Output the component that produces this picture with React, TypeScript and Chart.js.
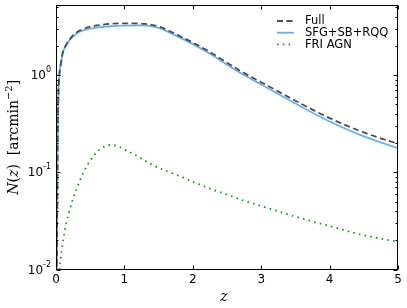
import React, { useEffect, useRef } from 'react';
import { Chart, registerables } from 'chart.js';
Chart.register(...registerables);

// ---- data ----
const zMain = [0.012, 0.02, 0.025, 0.03, 0.035, 0.04, 0.05, 0.075, 0.1, 0.15, 0.2, 0.3, 0.4, 0.5, 0.6, 0.8, 1.0, 1.2, 1.3, 1.4, 1.5, 1.6, 1.8, 2.0, 2.25, 2.5, 2.75, 3.0, 3.5, 4.0, 4.5, 5.0];
const nFull = [0.011, 0.062, 0.203, 0.424, 0.625, 0.786, 1.03, 1.36, 1.72, 2.05, 2.34, 2.75, 2.98, 3.13, 3.24, 3.37, 3.40, 3.40, 3.36, 3.29, 3.16, 2.97, 2.54, 2.16, 1.73, 1.34, 1.05, 0.845, 0.545, 0.361, 0.257, 0.196];
const nSfg = [0.01, 0.06, 0.2, 0.42, 0.62, 0.78, 1.02, 1.35, 1.7, 2.02, 2.3, 2.68, 2.88, 3.0, 3.08, 3.18, 3.23, 3.25, 3.23, 3.17, 3.05, 2.87, 2.45, 2.08, 1.66, 1.28, 1.0, 0.8, 0.51, 0.333, 0.234, 0.177];
const zAgn = [0.04, 0.05, 0.075, 0.1, 0.15, 0.2, 0.25, 0.3, 0.4, 0.5, 0.6, 0.7, 0.8, 0.9, 1.0, 1.2, 1.4, 1.6, 1.8, 2.0, 2.25, 2.5, 2.75, 3.0, 3.5, 4.0, 4.5, 5.0];
const nAgn = [0.0075, 0.0095, 0.014, 0.019, 0.03, 0.041, 0.054, 0.067, 0.099, 0.132, 0.162, 0.183, 0.191, 0.186, 0.172, 0.145, 0.12, 0.104, 0.092, 0.08, 0.068, 0.059, 0.051, 0.045, 0.035, 0.028, 0.0225, 0.0193];

const seriesNames = ['Full', 'SFG+SB+RQQ', 'FRI AGN'];
const xTicks = [0, 1, 2, 3, 4, 5];
const yTicks = [0.01, 0.1, 1];
const yTickExp = ['-2', '-1', '0'];
const xMin = 0, xMax = 5, yMin = 0.01, yMax = 5.26;

const W = 407, H = 308;
const SANS = '"DejaVu Sans", sans-serif';
const SERIF = '"DejaVu Serif", "Liberation Serif", serif';

const pts = (xs: number[], ys: number[]) => xs.map((x, i) => ({ x, y: ys[i] }));

const decor = {
  id: 'decor',
  afterDraw(chart: any) {
    const { ctx, chartArea: a } = chart;
    const xs = chart.scales.x, ys = chart.scales.y;
    ctx.save();
    ctx.strokeStyle = '#000';
    ctx.fillStyle = '#000';
    ctx.lineWidth = 1;
    const L = Math.round(a.left) + 0.5, R = Math.round(a.right) - 0.5;
    const T = Math.round(a.top) + 0.5, B = Math.round(a.bottom) - 0.5;
    ctx.strokeRect(L, T, R - L, B - T);
    ctx.beginPath();
    xTicks.forEach((v) => {
      const px = Math.round(xs.getPixelForValue(v)) + 0.5;
      ctx.moveTo(px, B); ctx.lineTo(px, B - 4);
      ctx.moveTo(px, T); ctx.lineTo(px, T + 4);
    });
    for (let e = -2; e <= 0; e++) {
      for (let m = 1; m <= 9; m++) {
        const v = m * Math.pow(10, e);
        if (v < yMin || v > yMax) continue;
        const py = Math.round(ys.getPixelForValue(v)) + 0.5;
        const len = m === 1 ? 4 : 2;
        ctx.moveTo(L, py); ctx.lineTo(L + len, py);
        ctx.moveTo(R, py); ctx.lineTo(R - len, py);
      }
    }
    ctx.stroke();
    ctx.font = `12px ${SANS}`;
    ctx.textAlign = 'center';
    ctx.textBaseline = 'top';
    xTicks.forEach((v) => {
      ctx.fillText(String(v), xs.getPixelForValue(v), a.bottom + 4);
    });
    yTicks.forEach((v, i) => {
      const py = ys.getPixelForValue(v);
      ctx.font = `8px ${SANS}`;
      const ew = ctx.measureText(yTickExp[i]).width;
      const right = a.left - 5;
      ctx.textAlign = 'right';
      ctx.textBaseline = 'middle';
      ctx.fillText(yTickExp[i], right, py - 5);
      ctx.font = `12px ${SANS}`;
      ctx.fillText('10', right - ew, py + 1);
    });
    ctx.font = `italic 14px ${SERIF}`;
    ctx.textAlign = 'center';
    ctx.textBaseline = 'middle';
    ctx.fillText('z', (a.left + a.right) / 2 - 3, 297);
    ctx.save();
    ctx.translate(14, (a.top + a.bottom) / 2);
    ctx.rotate(-Math.PI / 2);
    const parts = [
      { t: 'N', f: `italic 14px ${SERIF}`, dy: 0 },
      { t: '(', f: `14px ${SERIF}`, dy: 0 },
      { t: 'z', f: `italic 14px ${SERIF}`, dy: 0 },
      { t: ')', f: `14px ${SERIF}`, dy: 0 },
      { t: '  [arcmin', f: `14px ${SERIF}`, dy: 0 },
      { t: '−2', f: `10px ${SERIF}`, dy: -5 },
      { t: ']', f: `14px ${SERIF}`, dy: 0 },
    ];
    let tw = 0;
    parts.forEach((p) => { ctx.font = p.f; tw += ctx.measureText(p.t).width; });
    let cx = -tw / 2;
    ctx.textAlign = 'left';
    ctx.textBaseline = 'middle';
    parts.forEach((p) => {
      ctx.font = p.f;
      ctx.fillText(p.t, cx, p.dy);
      cx += ctx.measureText(p.t).width;
    });
    ctx.restore();
    const rows = [21, 32.7, 44.3];
    chart.data.datasets.forEach((ds: any, i: number) => {
      const y = rows[i];
      ctx.save();
      ctx.strokeStyle = ds.borderColor;
      ctx.lineWidth = ds.borderWidth;
      ctx.setLineDash(ds.borderDash || []);
      ctx.beginPath();
      ctx.moveTo(277, y);
      ctx.lineTo(294, y);
      ctx.stroke();
      ctx.restore();
      ctx.font = `11.5px ${SANS}`;
      ctx.textAlign = 'left';
      ctx.textBaseline = 'middle';
      ctx.fillStyle = '#000';
      ctx.fillText(ds.label, 305, y + 0.5);
    });
    ctx.restore();
  },
};

export default function App() {
  const ref = useRef<HTMLCanvasElement | null>(null);
  useEffect(() => {
    if (!ref.current) return;
    const chart = new Chart(ref.current, {
      type: 'line',
      data: {
        datasets: [
          { label: seriesNames[0], data: pts(zMain, nFull), borderColor: '#4d4d4d', borderWidth: 1.8, borderDash: [6, 3.5], pointRadius: 0, cubicInterpolationMode: 'monotone', clip: 0 } as any,
          { label: seriesNames[1], data: pts(zMain, nSfg), borderColor: '#66aef7', borderWidth: 1.8, pointRadius: 0, cubicInterpolationMode: 'monotone', clip: 0 } as any,
          { label: seriesNames[2], data: pts(zAgn, nAgn), borderColor: '#139a13', borderWidth: 1.8, borderDash: [1.6, 4.2], pointRadius: 0, cubicInterpolationMode: 'monotone', clip: 0 } as any,
        ],
      },
      options: {
        responsive: false,
        animation: false,
        parsing: false as any,
        layout: { padding: { left: 0, top: 5, right: 9, bottom: 0 } },
        plugins: { legend: { display: false }, tooltip: { enabled: false } },
        scales: {
          x: {
            type: 'linear', min: xMin, max: xMax,
            grid: { display: false }, border: { display: false },
            ticks: { display: false },
            afterFit: (s: any) => { s.height = 38.5; },
          },
          y: {
            type: 'logarithmic', min: yMin, max: yMax,
            grid: { display: false }, border: { display: false },
            ticks: { display: false },
            afterFit: (s: any) => { s.width = 56; },
          },
        },
      },
      plugins: [decor],
    });
    return () => chart.destroy();
  }, []);
  return (
    <div style={{ position: 'fixed', left: 0, top: 0, width: W, height: H, background: '#fff' }}>
      <canvas ref={ref} width={W} height={H} style={{ width: W, height: H, display: 'block' }} />
    </div>
  );
}
